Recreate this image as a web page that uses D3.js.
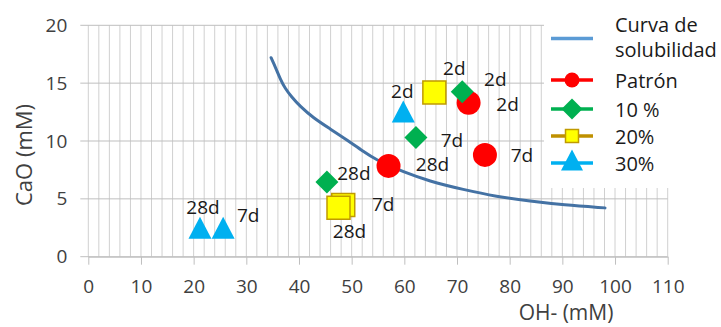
<!DOCTYPE html>
<html>
<head>
<meta charset="utf-8">
<script src="https://cdn.jsdelivr.net/npm/d3@7"></script>
<style>
  html, body { margin: 0; padding: 0; background: #fff; }
  svg { display: block; font-family: "Open Sans", "Noto Sans", sans-serif; }
</style>
</head>
<body>
<svg id="chart" width="721" height="327"></svg>
<script>
// Solubility curve of Ca(OH)2: OH- (mM) vs CaO (mM)
const curveOH  = [34.7, 35.6, 36.5, 37.3, 38.6, 40.2, 42.7, 45.9, 49.1, 52.2, 54.8, 57.5, 59.2, 64.8, 71.2, 77.5, 83.9, 90.2, 98.1];
const curveCaO = [17.2, 16.3, 15.3, 14.6, 13.8, 13.0, 12.0, 11.05, 10.1, 9.1, 8.35, 7.8, 7.45, 6.5, 5.8, 5.2, 4.8, 4.47, 4.22];

// Measured pore-solution points per mix (ages 2d, 7d, 28d)
const ages = ["2d", "7d", "28d"];
const patronOH  = [72.2, 75.3, 57.0];
const patronCaO = [13.3, 8.8, 7.85];
const p10OH  = [71.0, 62.2, 45.3];
const p10CaO = [14.25, 10.3, 6.45];
const p20OH  = [65.7, 48.4, 47.5];
const p20CaO = [14.2, 4.47, 4.24];
const p30OH  = [59.8, 25.6, 21.2];
const p30CaO = [12.55, 2.5, 2.5];

const seriesNames = ["Patrón", "10 %", "20%", "30%"];
const curveName = ["Curva de", "solubilidad"];

const xTicks = d3.range(0, 111, 10);
const yTicks = [0, 5, 10, 15, 20];

// Label offsets (px) from each marker centre, per series, per age
const labelOffsets = [
  [[39, 1], [37, 0], [44, -2]],
  [[33, -13], [36, 2], [27, -9]],
  [[20, -24], [40, -1], [11, 23]],
  [[-1, -20], [25, -13], [3, -21]]
];

// Marker shapes drawn as paths; w = full width in px
function shapePath(kind, w) {
  const p = d3.path(), h = w / 2;
  if (kind === "circle") {
    p.arc(0, 0, h, 0, 2 * Math.PI);
  } else if (kind === "diamond") {
    p.moveTo(0, -h); p.lineTo(h, 0); p.lineTo(0, h); p.lineTo(-h, 0); p.closePath();
  } else if (kind === "square") {
    p.rect(-h, -h, w, w);
  } else {
    const th = w * 0.96 / 2;
    p.moveTo(0, -th); p.lineTo(h, th); p.lineTo(-h, th); p.closePath();
  }
  return p.toString();
}

const styles = [
  { shape: "circle",   w: 24, fill: "#ff0000", stroke: "none",    line: "#ff0000", lw: 15 },
  { shape: "diamond",  w: 23, fill: "#00b050", stroke: "none",    line: "#00b050", lw: 21 },
  { shape: "square",   w: 23, fill: "#ffff00", stroke: "#c09a00", line: "#bf9000", lw: 13 },
  { shape: "triangle", w: 23, fill: "#00b0f0", stroke: "none",    line: "#00b0f0", lw: 22 }
];

const svg = d3.select("#chart");
const x = d3.scaleLinear().domain([0, 110]).range([88.3, 667.7]);
const y = d3.scaleLinear().domain([0, 20]).range([256.7, 25.3]);

// Vertical minor gridlines every 2 units
svg.append("g").selectAll("line")
  .data(d3.range(0, 111, 2))
  .join("line")
  .attr("x1", d => x(d)).attr("x2", d => x(d))
  .attr("y1", y(20)).attr("y2", y(0))
  .attr("stroke", "#d0d0d0").attr("stroke-width", 1);

// Horizontal major gridlines with outward ticks on the left
svg.append("g").selectAll("line")
  .data(yTicks)
  .join("line")
  .attr("x1", x(0) - 8).attr("x2", x(110))
  .attr("y1", d => y(d)).attr("y2", d => y(d))
  .attr("stroke", "#bfbfbf").attr("stroke-width", 1);

// X axis (ticks below)
const xAxis = svg.append("g")
  .attr("transform", `translate(0,${y(0)})`)
  .call(d3.axisBottom(x).tickValues(xTicks).tickSize(8).tickPadding(15).tickSizeOuter(0));
xAxis.select(".domain").attr("stroke", "#bfbfbf");
xAxis.selectAll(".tick line").attr("stroke", "#bfbfbf");
xAxis.selectAll("text").attr("font-size", 19).attr("fill", "#404040")
  .attr("font-family", "Open Sans");

// Y axis labels
const yAxis = svg.append("g")
  .attr("transform", `translate(${x(0)},0)`)
  .call(d3.axisLeft(y).tickValues(yTicks).tickSize(0).tickPadding(21));
yAxis.select(".domain").remove();
yAxis.selectAll("text").attr("font-size", 19).attr("fill", "#404040")
  .attr("font-family", "Open Sans");

// Solubility curve
const curvePts = curveOH.map((v, i) => [v, curveCaO[i]]);
svg.append("path")
  .datum(curvePts)
  .attr("d", d3.line().x(d => x(d[0])).y(d => y(d[1])).curve(d3.curveBasis))
  .attr("fill", "none").attr("stroke", "#4472a4").attr("stroke-width", 3)
  .attr("stroke-linecap", "round");

// Markers and labels
const seriesOH = [patronOH, p10OH, p20OH, p30OH];
const seriesCaO = [patronCaO, p10CaO, p20CaO, p30CaO];

seriesOH.forEach((ohs, si) => {
  const st = styles[si];
  const pts = ohs.map((v, i) => ({ oh: v, cao: seriesCaO[si][i], age: ages[i], off: labelOffsets[si][i] }));
  const g = svg.append("g");
  g.selectAll("path")
    .data(pts)
    .join("path")
    .attr("transform", d => `translate(${x(d.oh)},${y(d.cao)})`)
    .attr("d", shapePath(st.shape, st.w))
    .attr("fill", st.fill)
    .attr("stroke", st.stroke).attr("stroke-width", 1.5);
  g.selectAll("text")
    .data(pts)
    .join("text")
    .attr("x", d => x(d.oh) + d.off[0])
    .attr("y", d => y(d.cao) + d.off[1])
    .attr("text-anchor", "middle")
    .attr("dominant-baseline", "central")
    .attr("font-size", 19).attr("fill", "#1a1a1a")
    .text(d => d.age);
});

// Legend
const legend = svg.append("g");
legend.append("rect").attr("x", 544).attr("y", 0).attr("width", 177).attr("height", 188).attr("fill", "#fff");
legend.append("line").attr("x1", 551).attr("x2", 593).attr("y1", 38.5).attr("y2", 38.5)
  .attr("stroke", "#5b9bd5").attr("stroke-width", 3.5);
legend.selectAll("text.curve")
  .data(curveName)
  .join("text")
  .attr("class", "curve")
  .attr("x", 615).attr("y", (d, i) => 24 + i * 25)
  .attr("dominant-baseline", "central")
  .attr("font-size", 20).attr("fill", "#1a1a1a")
  .text(d => d);

const rowY = [80, 109, 136, 163];
seriesNames.forEach((name, i) => {
  const st = styles[i];
  const row = legend.append("g").attr("transform", `translate(0,${rowY[i]})`);
  row.append("line").attr("x1", 551).attr("x2", 593).attr("y1", 0).attr("y2", 0)
    .attr("stroke", st.line).attr("stroke-width", 3.5);
  row.append("path")
    .attr("transform", `translate(572,${i === 3 ? -3 : 0})`)
    .attr("d", shapePath(st.shape, st.lw))
    .attr("fill", st.fill)
    .attr("stroke", st.stroke).attr("stroke-width", 1.5);
  row.append("text")
    .attr("x", 615).attr("y", 0)
    .attr("dominant-baseline", "central")
    .attr("font-size", 20).attr("fill", "#1a1a1a")
    .text(name);
});

// Axis titles
svg.append("text")
  .attr("x", 566).attr("y", 312)
  .attr("text-anchor", "middle").attr("dominant-baseline", "central")
  .attr("font-size", 21).attr("fill", "#404040")
  .text("OH- (mM)");
svg.append("text")
  .attr("transform", "translate(23,155) rotate(-90)")
  .attr("text-anchor", "middle").attr("dominant-baseline", "central")
  .attr("font-size", 22).attr("fill", "#404040")
  .text("CaO (mM)");
</script>
</body>
</html>
